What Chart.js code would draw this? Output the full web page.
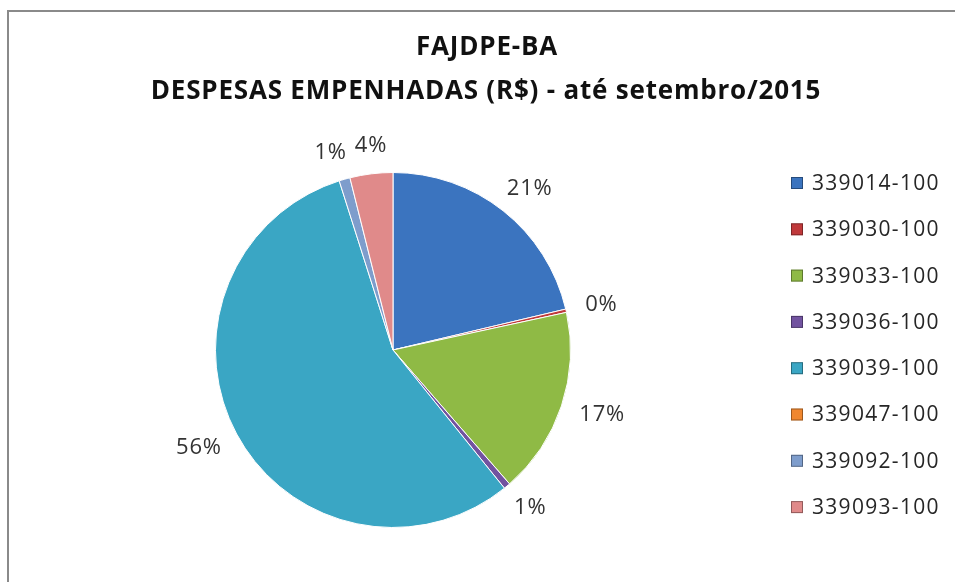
<!DOCTYPE html>
<html>
<head>
<meta charset="utf-8">
<script src="https://cdn.jsdelivr.net/npm/chart.js@4.4.0/dist/chart.umd.min.js"></script>
<style>
  html, body { margin: 0; padding: 0; background: #fff; }
  #wrap { width: 955px; height: 582px; position: relative; }
</style>
</head>
<body>
<div id="wrap"><canvas id="chart" width="955" height="582"></canvas></div>
<script>
// chart data
const titleLines = ["FAJDPE-BA", "DESPESAS EMPENHADAS (R$) - até setembro/2015"];
const categories = ["339014-100", "339030-100", "339033-100", "339036-100", "339039-100", "339047-100", "339092-100", "339093-100"];
const shares = [21.3, 0.3, 17.0, 0.6, 55.9, 0, 1.0, 3.9];
const sliceColors = ["#3b74bf", "#c0393b", "#8fba45", "#7253a0", "#3aa6c4", "#f0872f", "#7e9dcc", "#e08a8a"];

const total = shares.reduce((a, b) => a + b, 0);

// frame + title
const framePlugin = {
  id: "frame",
  beforeDraw(chart) {
    const ctx = chart.ctx;
    ctx.save();
    ctx.fillStyle = "#fff";
    ctx.fillRect(0, 0, chart.width, chart.height);
    ctx.strokeStyle = "#8a8a8a";
    ctx.lineWidth = 2;
    ctx.beginPath();
    ctx.moveTo(8, chart.height + 2);
    ctx.lineTo(8, 11);
    ctx.lineTo(chart.width + 2, 11);
    ctx.stroke();

    ctx.fillStyle = "#111";
    ctx.font = "bold 26px 'Open Sans'";
    ctx.letterSpacing = "0.8px";
    ctx.textAlign = "center";
    ctx.textBaseline = "middle";
    ctx.fillText(titleLines[0], 487, 48);
    ctx.fillText(titleLines[1], 486, 92);
    ctx.restore();
  }
};

// percentage labels outside slices + legend on the right
const labelPlugin = {
  id: "outLabels",
  afterDraw(chart) {
    const ctx = chart.ctx;
    const arcs = chart.getDatasetMeta(0).data;
    ctx.save();
    ctx.font = "22px 'Open Sans'";
    ctx.letterSpacing = "0.8px";
    ctx.fillStyle = "#333";
    ctx.textAlign = "center";
    ctx.textBaseline = "middle";

    const boxes = [];
    arcs.forEach((arc, i) => {
      if (!shares[i]) return;
      const mid = (arc.startAngle + arc.endAngle) / 2;
      const txt = Math.round(shares[i] / total * 100) + "%";
      const w = ctx.measureText(txt).width;
      const h = 16;
      const r = arc.outerRadius + 20;
      boxes.push({
        txt, w,
        x: arc.x + Math.cos(mid) * (r + w / 2),
        y: arc.y + Math.sin(mid) * (r + h / 2)
      });
    });

    // push apart labels that collide
    for (let i = 0; i < boxes.length; i++) {
      for (let j = i + 1; j < boxes.length; j++) {
        const a = boxes[i], b = boxes[j];
        const need = (a.w + b.w) / 2 + 8;
        if (Math.abs(a.y - b.y) < 20 && Math.abs(a.x - b.x) < need) {
          const shift = (need - Math.abs(a.x - b.x)) / 2;
          if (a.x < b.x) { a.x -= shift; b.x += shift; } else { a.x += shift; b.x -= shift; }
        }
      }
    }
    boxes.forEach(b => ctx.fillText(b.txt, b.x, b.y));

    // legend
    ctx.textAlign = "left";
    ctx.font = "21px 'Open Sans'";
    ctx.letterSpacing = "1.3px";
    categories.forEach((c, i) => {
      const y = 183 + i * 46.3;
      ctx.fillStyle = sliceColors[i];
      ctx.fillRect(791, y - 6, 12, 12);
      ctx.strokeStyle = "rgba(0,0,0,0.35)";
      ctx.lineWidth = 1;
      ctx.strokeRect(791.5, y - 5.5, 11, 11);
      ctx.fillStyle = "#262626";
      ctx.fillText(c, 812, y + 1);
    });
    ctx.restore();
  }
};

new Chart(document.getElementById("chart"), {
  type: "pie",
  data: {
    labels: categories,
    datasets: [{
      data: shares,
      backgroundColor: sliceColors,
      borderColor: "#ffffff",
      borderWidth: 1
    }]
  },
  options: {
    responsive: false,
    animation: false,
    layout: { padding: { left: 215, right: 384, top: 172, bottom: 54 } },
    plugins: {
      legend: { display: false },
      tooltip: { enabled: false },
      title: { display: false }
    }
  },
  plugins: [framePlugin, labelPlugin]
});
</script>
</body>
</html>
